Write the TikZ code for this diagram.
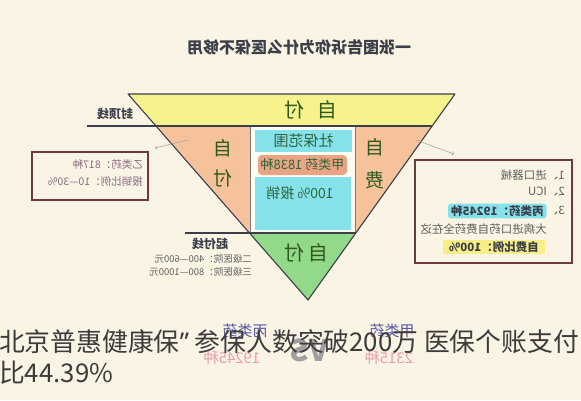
\documentclass[tikz,border=0pt]{standalone}
\usepackage{graphicx}
\usepackage{xcolor}
\usepackage{fontspec}
\usepackage{tikz}
\setmainfont{Noto Sans CJK SC}
\newfontfamily\latinfont{Noto Sans}

\definecolor{bgcream}{HTML}{FAF4E4}
\definecolor{bandyellow}{HTML}{F6F38E}
\definecolor{peach}{HTML}{F5C29C}
\definecolor{leafgreen}{HTML}{92D98A}
\definecolor{paper}{HTML}{FFFCF2}
\definecolor{cyanhl}{HTML}{86E2EA}
\definecolor{orangehl}{HTML}{E9A583}
\definecolor{yellowhl}{HTML}{F7EE86}
\definecolor{inkgreen}{HTML}{2E5A1E}
\definecolor{inkdark}{HTML}{3A3F4A}
\definecolor{boxred}{HTML}{6E3B3B}
\definecolor{boxtxt}{HTML}{8A6A84}
\definecolor{graytxt}{HTML}{5F5F5F}
\definecolor{pinkink}{HTML}{E8A0AE}
\definecolor{capgray}{HTML}{3C3C3C}

\newcommand{\flipx}[1]{\reflectbox{#1}}
\newcommand{\fs}[1]{\fontsize{#1}{#1}\selectfont}

\begin{document}
\begin{tikzpicture}[x=1pt,y=-1pt,
    outline/.style={draw=inkdark,line width=1.1pt,line join=round},
    handtext/.style={text=inkgreen,inner sep=0pt,font=\fs{19}},
    midtext/.style={text=inkdark!80!green,inner sep=1pt},
    linetext/.style={text=inkdark,inner sep=0pt,font=\bfseries\fs{12}},
    boxtext/.style={text=boxtxt,inner sep=0pt,font=\fs{10.5}},
    sidetext/.style={text=graytxt,inner sep=0pt,font=\fs{11.5}},
    pointer/.style={->,draw=gray!70,line width=0.6pt},
    infobox/.style={draw=boxred,line width=1.2pt,inner sep=0pt}]

    \useasboundingbox (0,0) rectangle (581,400);
    \fill[bgcream] (0,0) rectangle (581,400);

    \node[text=inkdark,font=\bfseries\fs{16}] (title) at (299,47) {\flipx{一张图告诉你为什么医保不够用}};

    % pyramid
    \coordinate (tl) at (128,94);
    \coordinate (tr) at (455,94);
    \coordinate (bt) at (308,300);
    \coordinate (capL) at (156,126);
    \coordinate (capR) at (432,126);
    \coordinate (dedL) at (249.5,233);
    \coordinate (dedR) at (356,233);
    \fill[bandyellow] (tl) -- (tr) -- (capR) -- (capL) -- cycle;
    \fill[peach] (capL) -- (capR) -- (dedR) -- (dedL) -- cycle;
    \fill[leafgreen] (dedL) -- (dedR) -- (bt) -- cycle;
    \node[draw=inkdark!70,fill=paper,minimum width=105pt,minimum height=107pt,inner sep=0pt] (ins) at (302.5,179.5) {};

    \node[fill=cyanhl,minimum width=97pt,minimum height=22pt,inner sep=0pt,midtext,font=\fs{15}] (sb) at (303.5,141) {\flipx{社保范围}};
    \node[fill=orangehl,rounded corners=4pt,minimum width=89pt,minimum height=20pt,inner sep=0pt,midtext,font=\fs{13}] (jl) at (302.5,165) {\flipx{甲类药 1838种}};
    \node[fill=cyanhl,minimum width=96pt,minimum height=53pt,inner sep=0pt] (bx) at (303,203.5) {};
    \node[midtext,font=\fs{14}] (bxt) at (300,193) {\flipx{100\% 报销}};

    \draw[outline] (tl) -- (tr) -- (bt) -- cycle;
    \coordinate (capEnd) at (87,126);
    \coordinate (dedEnd) at (185,233);
    \draw[outline] (capEnd) -- (capR);
    \draw[outline] (dedEnd) -- (dedR);

    \node[handtext,font=\fs{20}] (top) at (311,110) {\flipx{自\hspace{13pt}付}};
    \node[handtext] (l1) at (223,148) {\flipx{自}};
    \node[handtext] (l2) at (223,178) {\flipx{付}};
    \node[handtext] (r1) at (375,147) {\flipx{自}};
    \node[handtext] (r2) at (375,180) {\flipx{费}};
    \node[handtext,font=\fs{20}] (bot) at (306,253) {\flipx{自\hspace{4pt}付}};

    \node[linetext] (cap) at (115,114) {\flipx{封顶线}};
    \node[linetext] (ded) at (210,244) {\flipx{起付线}};
    \node[text=graytxt,inner sep=0pt,font=\fs{9.5},anchor=east] (h2) at (252,259) {\flipx{二级医院：400—600元}};
    \node[text=graytxt,inner sep=0pt,font=\fs{9.5},anchor=east] (h3) at (252,272) {\flipx{三级医院：800—1000元}};

    % left box
    \node[infobox,minimum width=116pt,minimum height=48pt] (lbox) at (90,176) {};
    \node[boxtext,anchor=east] (lb1) at (143,165) {\flipx{乙类药：817种}};
    \node[boxtext,anchor=east] (lb2) at (143,182) {\flipx{报销比例：10—30\%}};
    \coordinate (la1) at (188,140);
    \coordinate (la2) at (155,148);
    \draw[pointer] (la1) -- (la2);

    % right box
    \node[infobox,minimum width=157pt,minimum height=103pt] (rbox) at (493.5,211.5) {};
    \node[sidetext,anchor=east] (rb1) at (565,175) {\flipx{1、进口器械}};
    \node[sidetext,anchor=east] (rb2) at (565,192) {\flipx{2、ICU}};
    \node[sidetext,anchor=east] (rb3) at (565,211) {\flipx{3、}};
    \node[sidetext,anchor=east,fill=cyanhl,text=inkdark,font=\bfseries\fs{11.5},inner xsep=3pt,inner ysep=2pt,rounded corners=3pt] (rb3b) at (rb3.west) {\flipx{丙类药：19245种}};
    \node[sidetext,anchor=east] (rb4) at (547,229) {\flipx{大病进口药自费药全在这}};
    \node[sidetext,anchor=east,fill=yellowhl,text=inkdark,font=\bfseries\fs{11.5},inner xsep=6pt,inner ysep=2pt] (rb5) at (545,247) {\flipx{自费比例：100\%}};
    \coordinate (ra1) at (416,140);
    \coordinate (ra2) at (454,154);
    \draw[pointer] (ra1) -- (ra2);

    % handwriting below
    \node[text=gray!70!blue,inner sep=0pt,font=\fs{15}] (w1) at (245,331) {\flipx{丙类药}};
    \node[text=gray!70!blue,inner sep=0pt,font=\fs{15}] (w2) at (392,331) {\flipx{甲类药}};
    \node[text=gray!75,inner sep=0pt,font=\bfseries\fs{30}] (vs) at (309,350) {\flipx{VS}};
    \node[text=pinkink,inner sep=0pt,font=\fs{15}] (n1) at (232,358) {\flipx{19245种}};
    \node[text=pinkink,inner sep=0pt,font=\fs{15}] (n2) at (389,358) {\flipx{2315种}};

    % caption
    \node[text=capgray,inner sep=0pt,font=\fs{25.8},anchor=base west] (c1) at (-1,351) {北京普惠健康保{\latinfont ”} 参保人数突破200万 医保个账支付};
    \node[text=capgray,inner sep=0pt,font=\fs{25.8},anchor=base west] (c2) at (-1,382) {比44.39\%};
\end{tikzpicture}
\end{document}
